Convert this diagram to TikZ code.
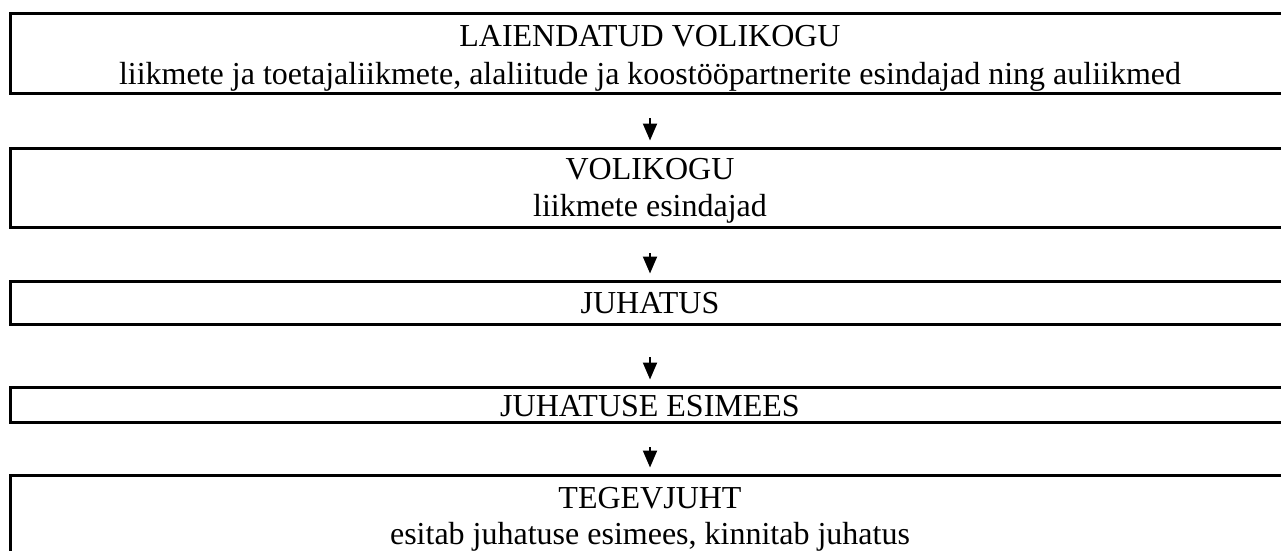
\documentclass[tikz,border=0pt]{standalone}
\usepackage{fontspec}
\setmainfont{Liberation Serif}
\usetikzlibrary{arrows.meta}
\begin{document}
\begin{tikzpicture}[x=1pt,y=-1pt,
  box/.style={draw=black,line width=3pt,rectangle,minimum width=1280pt,inner sep=0pt},
  txt/.style={anchor=base,inner sep=0pt,font=\fontsize{32}{36}\selectfont},
  arr/.style={draw=black,line width=2pt,-{Triangle[length=17pt,width=14pt]}}]
\useasboundingbox (0,0) rectangle (1281,550);
\clip (0,0) rectangle (1281,550);
% boxes
\node[box,minimum height=79.5pt] (b1) at (650,53.25) {};
\node[box,minimum height=79pt] (b2) at (650,187.5) {};
\node[box,minimum height=43pt] (b3) at (650,302.5) {};
\node[box,minimum height=35pt] (b4) at (650,404.5) {};
\node[box,minimum height=90pt] (b5) at (650,520) {};
% texts
\node[txt] (t1a) at (650,46) {LAIENDATUD VOLIKOGU};
\node[txt] (t1b) at (650,84) {liikmete ja toetajaliikmete, alaliitude ja koostööpartnerite esindajad ning auliikmed};
\node[txt] (t2a) at (650,179) {VOLIKOGU};
\node[txt] (t2b) at (650,216) {liikmete esindajad};
\node[txt] (t3) at (650,313) {JUHATUS};
\node[txt] (t4) at (650,416) {JUHATUSE ESIMEES};
\node[txt] (t5a) at (650,508) {TEGEVJUHT};
\node[txt] (t5b) at (650,544) {esitab juhatuse esimees, kinnitab juhatus};
% arrows
\coordinate (s1) at (650,118);
\coordinate (s2) at (650,253);
\coordinate (s3) at (650,357);
\coordinate (s4) at (650,447);
\draw[arr] (s1) -- ([yshift=6pt]b2.north);
\draw[arr] (s2) -- ([yshift=6pt]b3.north);
\draw[arr] (s3) -- ([yshift=6pt]b4.north);
\draw[arr] (s4) -- ([yshift=6pt]b5.north);
\end{tikzpicture}
\end{document}
